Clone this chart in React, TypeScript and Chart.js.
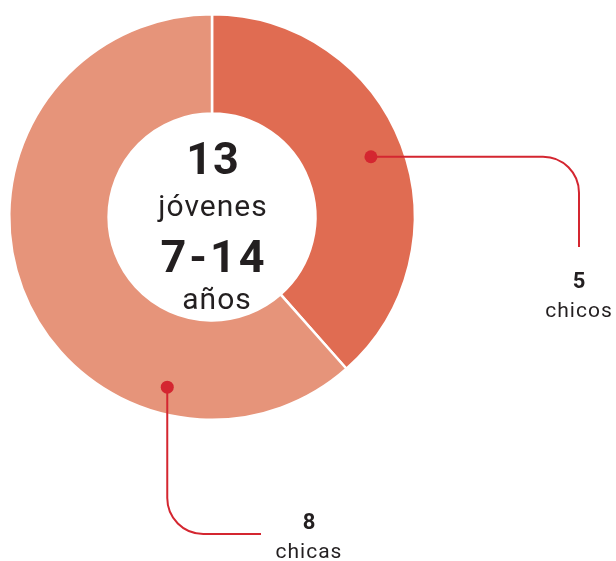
import React, { useEffect, useRef } from "react";
import { Chart, registerables } from "chart.js";

Chart.register(...registerables);

const categories = ["chicos", "chicas"];
const values = [5, 8];
const totalLabel = "13";
const totalCaption = "jóvenes";
const ageLabel = "7-14";
const ageCaption = "años";

const segmentColors = ["#E06C52", "#E6947A"];
const lineColor = "#D42630";
const textColor = "#231F20";
const FONT = "Roboto, 'DejaVu Sans', sans-serif";

const calloutPlugin = {
  id: "callouts",
  afterDraw(chart: any) {
    const ctx = chart.ctx;
    const meta = chart.getDatasetMeta(0);
    const arcs = meta.data as any[];
    if (!arcs.length) return;
    const cx = arcs[0].x;
    const cy = arcs[0].y;

    // center text
    ctx.save();
    ctx.fillStyle = textColor;
    ctx.textAlign = "center";
    ctx.textBaseline = "alphabetic";
    ctx.font = `bold 45px ${FONT}`;
    (ctx as any).letterSpacing = "1px";
    ctx.fillText(totalLabel, cx + 1, cy - 43);
    (ctx as any).letterSpacing = "3px";
    ctx.fillText(ageLabel, cx + 2, cy + 55);
    (ctx as any).letterSpacing = "1px";
    ctx.font = `30px ${FONT}`;
    ctx.fillText(totalCaption, cx + 1, cy - 1);
    ctx.fillText(ageCaption, cx + 5, cy + 92);
    ctx.restore();

    // dots along arcs
    const dotSpec = [
      { frac: 0.5, rfrac: 0.67 },
      { frac: 0.254, rfrac: 0.73 },
    ];
    const dots = arcs.map((a: any, i: number) => {
      const ang = a.startAngle + (a.endAngle - a.startAngle) * dotSpec[i].frac;
      const r = a.innerRadius + (a.outerRadius - a.innerRadius) * dotSpec[i].rfrac;
      return { x: cx + Math.cos(ang) * r, y: cy + Math.sin(ang) * r };
    });

    ctx.save();
    ctx.strokeStyle = lineColor;
    ctx.lineWidth = 2;
    const R = 36;
    // chicos leader
    const d0 = dots[0];
    const lx0 = 579;
    ctx.beginPath();
    ctx.moveTo(d0.x, d0.y);
    ctx.lineTo(lx0 - R, d0.y);
    ctx.arcTo(lx0, d0.y, lx0, d0.y + R, R);
    ctx.lineTo(lx0, 247);
    ctx.stroke();
    // chicas leader
    const d1 = dots[1];
    const ly1 = 534;
    ctx.beginPath();
    ctx.moveTo(d1.x, d1.y);
    ctx.lineTo(d1.x, ly1 - R);
    ctx.arcTo(d1.x, ly1, d1.x + R, ly1, R);
    ctx.lineTo(261, ly1);
    ctx.stroke();
    ctx.fillStyle = lineColor;
    dots.forEach((d) => {
      ctx.beginPath();
      ctx.arc(d.x, d.y, 6.5, 0, Math.PI * 2);
      ctx.fill();
    });
    ctx.restore();

    // labels
    const labelPos = [
      { x: 579, y: 288 },
      { x: 309, y: 529 },
    ];
    ctx.save();
    ctx.fillStyle = textColor;
    ctx.textAlign = "center";
    ctx.textBaseline = "alphabetic";
    labelPos.forEach((p, i) => {
      ctx.font = `bold 22px ${FONT}`;
      ctx.fillText(String(values[i]), p.x, p.y);
      ctx.font = `21px ${FONT}`;
      (ctx as any).letterSpacing = "1px";
      ctx.fillText(categories[i], p.x, p.y + 29);
      (ctx as any).letterSpacing = "0px";
    });
    ctx.restore();
  },
};

export default function App() {
  const ref = useRef<HTMLCanvasElement>(null);
  useEffect(() => {
    if (!ref.current) return;
    const chart = new Chart(ref.current, {
      type: "doughnut",
      data: {
        labels: categories,
        datasets: [
          {
            data: values,
            backgroundColor: segmentColors,
            borderColor: "#ffffff",
            borderWidth: 2.5,
          },
        ],
      },
      options: {
        responsive: false,
        animation: false,
        cutout: "51%",
        layout: { padding: { left: 8, top: 13, right: 200, bottom: 140 } },
        plugins: { legend: { display: false }, tooltip: { enabled: false } },
      },
      plugins: [calloutPlugin],
    });
    return () => chart.destroy();
  }, []);
  return (
    <div style={{ position: "fixed", left: 0, top: 0, width: 616, height: 561, background: "#fff" }}>
      <canvas ref={ref} width={616} height={561} />
    </div>
  );
}
